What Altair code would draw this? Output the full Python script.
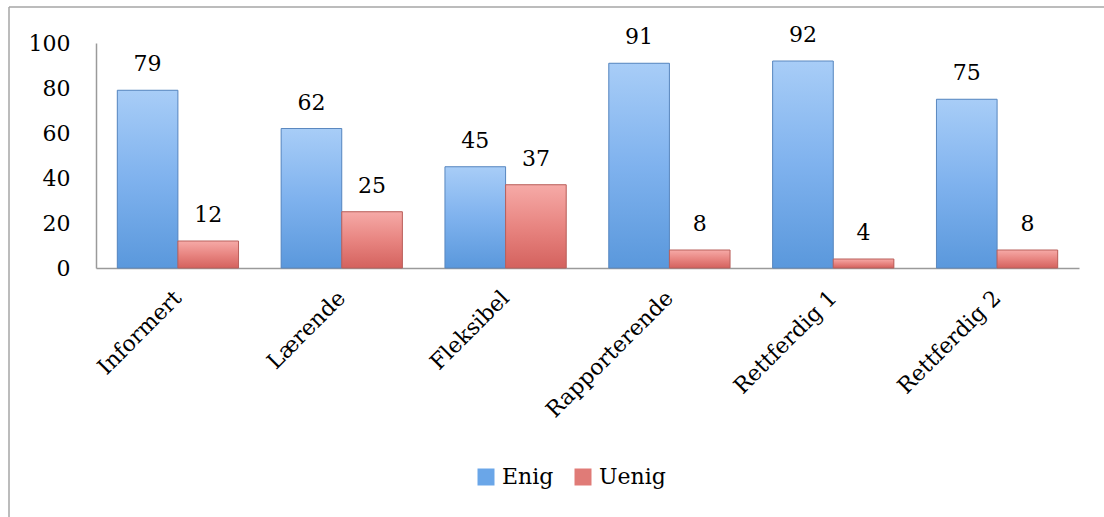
import altair as alt
import pandas as pd

categories = ["Informert", "Lærende", "Fleksibel", "Rapporterende", "Rettferdig 1", "Rettferdig 2"]
series = ["Enig", "Uenig"]
enig = [79, 62, 45, 91, 92, 75]
uenig = [12, 25, 37, 8, 4, 8]

rows = []
for c, e, u in zip(categories, enig, uenig):
    rows.append({"Kategori": c, "Serie": "Enig", "Verdi": e})
    rows.append({"Kategori": c, "Serie": "Uenig", "Verdi": u})
df = pd.DataFrame(rows)

FONT = "DejaVu Serif"
W, H = 983, 225

x_enc = alt.X("Kategori:N", sort=categories, title=None,
              scale=alt.Scale(paddingInner=0.26, paddingOuter=0.13),
              axis=alt.Axis(labelAngle=-45, labelAlign="right", labelBaseline="middle",
                            labelPadding=26, ticks=False, domainColor="#9a9a9a",
                            domainWidth=1.5, labelFont=FONT, labelFontSize=22,
                            labelColor="black"))
xo_enc = alt.XOffset("Serie:N", scale=alt.Scale(domain=series, paddingInner=0, paddingOuter=0))
y_enc = alt.Y("Verdi:Q", title=None,
              scale=alt.Scale(domain=[0, 100], nice=False),
              axis=alt.Axis(values=[0, 20, 40, 60, 80, 100], grid=False, ticks=False,
                            domainColor="#9a9a9a", domainWidth=1.5, labelPadding=26,
                            labelFont=FONT, labelFontSize=22, labelColor="black"))

base = alt.Chart(df)

legend_bars = base.mark_bar().encode(
    x=x_enc, xOffset=xo_enc, y=y_enc,
    color=alt.Color("Serie:N", title=None,
                    scale=alt.Scale(domain=series, range=["#6aa6e8", "#e07b77"]),
                    legend=alt.Legend(orient="none", legendX=379, legendY=423,
                                      direction="horizontal", symbolType="square",
                                      symbolSize=289, symbolStrokeWidth=1,
                                      labelFont=FONT, labelFontSize=22,
                                      labelColor="black", columnPadding=18,
                                      labelOffset=5)),
)

blue_grad = alt.Gradient(gradient="linear", x1=0, x2=0, y1=0, y2=1,
                         stops=[alt.GradientStop(color="#a8cdf7", offset=0),
                                alt.GradientStop(color="#7fb2ee", offset=0.5),
                                alt.GradientStop(color="#5a98dc", offset=1)])
red_grad = alt.Gradient(gradient="linear", x1=0, x2=0, y1=0, y2=1,
                        stops=[alt.GradientStop(color="#f6aaa7", offset=0),
                               alt.GradientStop(color="#e88581", offset=0.5),
                               alt.GradientStop(color="#d4625e", offset=1)])

enig_bars = base.transform_filter(alt.datum.Serie == "Enig").mark_bar(
    color=blue_grad, stroke="#5b88bf", strokeWidth=1
).encode(x=x_enc, xOffset=xo_enc, y=y_enc)

uenig_bars = base.transform_filter(alt.datum.Serie == "Uenig").mark_bar(
    color=red_grad, stroke="#b9605c", strokeWidth=1
).encode(x=x_enc, xOffset=xo_enc, y=y_enc)

labels = base.mark_text(font=FONT, fontSize=22, color="black", baseline="alphabetic",
                        dy=-19).encode(
    x=x_enc, xOffset=xo_enc, y=y_enc, text=alt.Text("Verdi:Q")
)

frame_left = alt.Chart(pd.DataFrame({"a": [0]})).mark_rule(color="#a6a6a6", strokeWidth=1.5).encode(
    x=alt.value(-87), y=alt.value(-36), y2=alt.value(480)
)
frame_top = alt.Chart(pd.DataFrame({"a": [0]})).mark_rule(color="#a6a6a6", strokeWidth=1.5).encode(
    x=alt.value(-87), x2=alt.value(1030), y=alt.value(-36)
)

chart = alt.layer(frame_left, frame_top, legend_bars, enig_bars, uenig_bars, labels).properties(
    width=W, height=H,
    autosize=alt.AutoSizeParams(type="none"),
    padding={"left": 96, "top": 43, "right": 25, "bottom": 249},
).configure(background="white").configure_view(stroke=None)

chart.save("out.html", embed_options={"renderer": "svg", "actions": False})
